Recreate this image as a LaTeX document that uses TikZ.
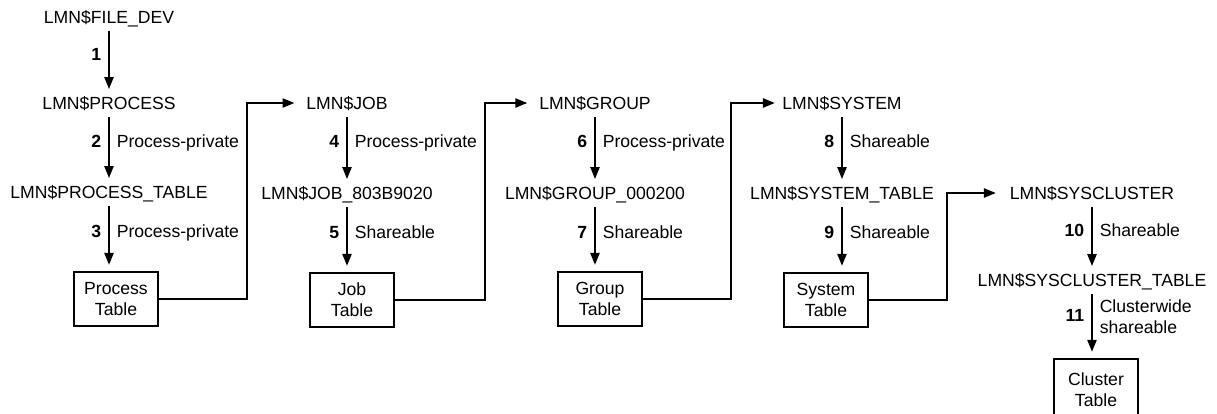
\documentclass[tikz,border=0pt]{standalone}
\usepackage{fontspec}
\setmainfont{Liberation Sans}
\usetikzlibrary{arrows.meta}

\begin{document}
\begin{tikzpicture}[x=0.5pt, y=-0.5pt,
    every node/.style = {font=\fontsize{8.8}{10.5}\selectfont},
    obj/.style = {inner xsep=3pt, inner ysep=3.5pt, text height=6.5pt, text depth=0pt},
    tbl/.style = {draw, line width=1.1pt, minimum width=42pt, minimum height=27pt, align=center, inner sep=1pt},
    arr/.style = {-{Triangle[length=6pt,width=4.5pt]}, line width=1.1pt},
    num/.style = {left, pos=.42, text height=6.5pt, text depth=1.8pt, font=\fontsize{8.8}{10.5}\selectfont\bfseries},
    kind/.style = {right, pos=.42, text height=6.5pt, text depth=1.8pt}]
    \useasboundingbox (0,0) rectangle (1217,413);

    % process column
    \node[obj] (fdev) at (109,17) {LMN\$FILE\_DEV};
    \node[obj] (proc) at (109,103) {LMN\$PROCESS};
    \node[obj] (ptab) at (109,192) {LMN\$PROCESS\_TABLE};
    \node[tbl] (pbox) at (116,299) {Process\\Table};

    % job column
    \node[obj] (job) at (347,103) {LMN\$JOB};
    \node[obj] (jtab) at (347,193) {LMN\$JOB\_803B9020};
    \node[tbl] (jbox) at (352,300) {Job\\Table};

    % group column
    \node[obj] (grp) at (595,103) {LMN\$GROUP};
    \node[obj] (gtab) at (595,193) {LMN\$GROUP\_000200};
    \node[tbl] (gbox) at (600,299) {Group\\Table};

    % system column
    \node[obj] (sys) at (842,103) {LMN\$SYSTEM};
    \node[obj] (stab) at (842,193) {LMN\$SYSTEM\_TABLE};
    \node[tbl] (sbox) at (826,300) {System\\Table};

    % cluster column
    \node[obj] (clu) at (1092,193) {LMN\$SYSCLUSTER};
    \node[obj] (ctab) at (1092,280) {LMN\$SYSCLUSTER\_TABLE};
    \node[tbl, minimum height=31pt] (cbox) at (1096,390) {Cluster\\Table};

    \draw[arr] (fdev) -- node[num] {1} (proc);
    \draw[arr] (proc) -- node[num] {2} node[kind] {Process-private} (ptab);
    \draw[arr, shorten >=3pt] (ptab) -- node[num] {3} node[kind] {Process-private} (ptab |- pbox.north);
    \draw[arr] (job) -- node[num] {4} node[kind] {Process-private} (jtab);
    \draw[arr, shorten >=3pt] (jtab) -- node[num] {5} node[kind] {Shareable} (jtab |- jbox.north);
    \draw[arr] (grp) -- node[num] {6} node[kind] {Process-private} (gtab);
    \draw[arr, shorten >=3pt] (gtab) -- node[num] {7} node[kind] {Shareable} (gtab |- gbox.north);
    \draw[arr] (sys) -- node[num] {8} node[kind] {Shareable} (stab);
    \draw[arr, shorten >=3pt] (stab) -- node[num] {9} node[kind] {Shareable} (stab |- sbox.north);
    \draw[arr] (clu) -- node[num] {10} node[kind] {Shareable} (ctab);
    \draw[arr, shorten >=3pt] (ctab) -- node[num, pos=.35] {11}
        node[right, pos=.35, align=left] {Clusterwide\\shareable} (ctab |- cbox.north);

    % links between columns
    \draw[arr, shorten >=2.75pt] (pbox.east) -- ++(88,0) |- (job);
    \draw[arr, shorten >=2.75pt] (jbox.east) -- ++(90,0) |- (grp);
    \draw[arr, shorten >=0.5pt] (gbox.east) -- ++(88,0) |- (sys);
    \draw[arr, shorten >=3.75pt] (sbox.east) -- ++(78,0) |- (clu);
\end{tikzpicture}
\end{document}
